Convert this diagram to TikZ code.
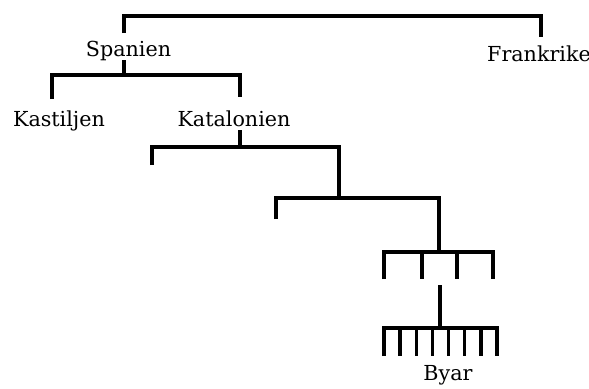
\documentclass[tikz,border=0pt]{standalone}
\usepackage{fontspec}
\setmainfont{DejaVu Serif}
\begin{document}
\begin{tikzpicture}[x=0.75pt,y=-0.75pt,
  lbl/.style={anchor=base,inner sep=0pt,font=\fontsize{15.5}{18}\selectfont},
  branch/.style={line width=2.6pt,line join=miter,line cap=butt}]
\useasboundingbox (0,0) rectangle (589,389);
% labels
\node[lbl] (spanien) at (128.5,56) {Spanien};
\node[lbl] (frankrike) at (539,61) {Frankrike};
\node[lbl] (kastiljen) at (59,126) {Kastiljen};
\node[lbl] (katalonien) at (234,126) {Katalonien};
\node[lbl] (byar) at (448,380) {Byar};
% junction coordinates
\coordinate (top) at (124,16);
\coordinate (spTop) at (124,33);
\coordinate (frTop) at (541,37);
\coordinate (spBot) at (124,60);
\coordinate (spJ) at (124,75);
\coordinate (kaTop) at (52,99);
\coordinate (ktTop) at (240,97);
\coordinate (ktBot) at (240,130);
\coordinate (ktJ) at (240,147);
\coordinate (l1a) at (152,165);
\coordinate (l1b) at (339,198);
\coordinate (l2a) at (276,219);
\coordinate (l2b) at (439,252);
\coordinate (c2top) at (440,285);
\coordinate (c2J) at (440,328);
% top bracket
\draw[branch] (spTop) -- (spTop |- top) -- (frTop |- top) -- (frTop);
% Spanien children
\draw[branch] (spBot) -- (spJ);
\draw[branch] (kaTop) -- (kaTop |- spJ) -- (ktTop |- spJ) -- (ktTop);
% Katalonien children
\draw[branch] (ktBot) -- (ktJ);
\draw[branch] (l1a) -- (l1a |- ktJ) -- (l1b |- ktJ) -- (l1b);
% next level
\draw[branch] (l2a) -- (l2a |- l1b) -- (l2b |- l1b) -- (l2b);
% comb with four teeth
\draw[branch] (384,279) -- (384,252) -- (493,252) -- (493,279);
\foreach \x in {422,457} \draw[branch] (\x,252) -- (\x,279);
% comb with eight teeth
\draw[branch] (c2top) -- (c2J);
\draw[branch] (384,356) -- (384,328) -- (497,328) -- (497,356);
\foreach \x in {400.1,416.3,432.4,448.6,464.7,480.9} \draw[branch] (\x,328) -- (\x,356);
\end{tikzpicture}
\end{document}
